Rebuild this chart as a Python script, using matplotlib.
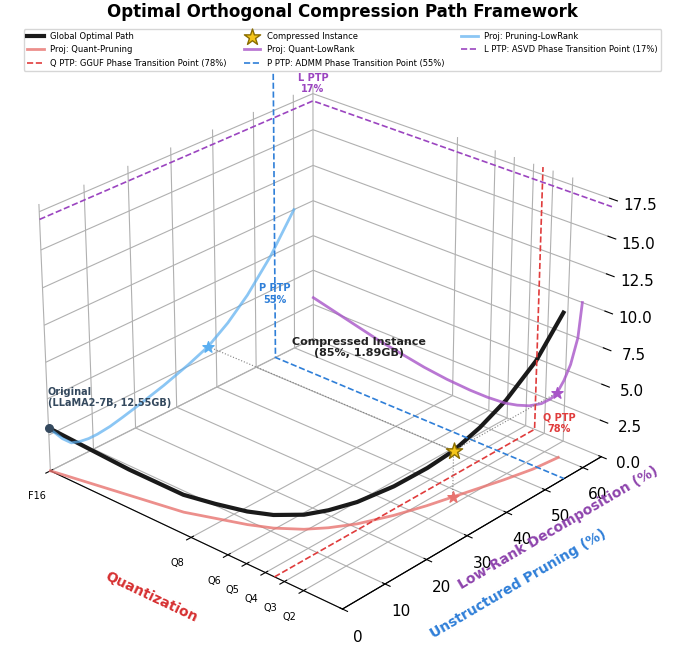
import matplotlib.pyplot as plt
import numpy as np

# quantization compression (%) for the tick formats
quant_ticks = [0, 50, 62.5, 68.75, 75, 81.25, 87.5]
quant_labels = ["F16", "Q8", "Q6", "Q5", "Q4", "Q3", "Q2"]

# global optimal path
path_x = [0, 8, 16, 24, 32, 40, 48, 56, 62, 68, 72, 76, 80, 83, 85, 87, 89, 91, 92]
path_y = [0, 1, 2, 3, 4, 5, 7, 9, 11, 14, 17, 21, 27, 33, 38, 43, 48, 54, 60]
path_z = [3.0, 2.6, 2.2, 1.8, 1.5, 1.2, 1.0, 0.9, 0.9, 1.0, 1.2, 1.5, 2.0, 2.6, 3.2, 4.2, 5.5, 7.5, 10.0]

inst = (85, 38, 3.2)
q_ptp, p_ptp, l_ptp = 78, 55, 17

xmax, ymax, zmin, zmax = 100, 65, 0, 18

fig = plt.figure(figsize=(6.85, 6.51), dpi=100)
ax = fig.add_subplot(111, projection="3d")
ax.view_init(elev=27, azim=-48)
ax.set_xlim(0, xmax)
ax.set_ylim(0, ymax)
ax.set_zlim(zmin, zmax)

px, py, pz = np.array(path_x), np.array(path_y), np.array(path_z)
ax.plot(px, py, pz, color="#1a1a1a", lw=3, label="Global Optimal Path")
ax.plot(px, py, np.full_like(pz, zmin), color="#e8736f", lw=2, alpha=0.8, label="Proj: Quant-Pruning")
ax.plot(px, np.full_like(py, ymax), pz, color="#a855c8", lw=2, alpha=0.8, label="Proj: Quant-LowRank")
ax.plot(np.zeros_like(px), py, pz, color="#5aaef0", lw=2, alpha=0.7, label="Proj: Pruning-LowRank")

# phase transition lines
ax.plot([q_ptp, q_ptp, q_ptp], [0, ymax, ymax], [zmin, zmin, zmax], "--", color="#e03c3c", lw=1.2,
        label="Q PTP: GGUF Phase Transition Point (78%)")
ax.plot([0, 0, xmax], [p_ptp, p_ptp, p_ptp], [zmax + 2, zmin, zmin], "--", color="#2f7fd8", lw=1.2,
        label="P PTP: ADMM Phase Transition Point (55%)")
ax.plot([0, 0, xmax], [0, ymax, ymax], [l_ptp, l_ptp, l_ptp], "--", color="#9b45c0", lw=1.2,
        label="L PTP: ASVD Phase Transition Point (17%)")

ax.scatter(*inst, marker="*", s=150, color="#f5c518", edgecolor="#8a6d00", depthshade=False,
           label="Compressed Instance", zorder=10)
ax.scatter(inst[0], inst[1], zmin, marker="*", s=70, color="#e8736f", depthshade=False)
ax.scatter(inst[0], ymax, inst[2], marker="*", s=70, color="#a855c8", depthshade=False)
ax.scatter(0, inst[1], inst[2], marker="*", s=70, color="#5aaef0", depthshade=False)
for p in [(inst[0], inst[1], zmin), (inst[0], ymax, inst[2]), (0, inst[1], inst[2])]:
    ax.plot([inst[0], p[0]], [inst[1], p[1]], [inst[2], p[2]], ":", color="gray", lw=0.8)

ax.scatter(0, 0, path_z[0], s=30, color="#34495e", depthshade=False)
ax.text(0, 0, path_z[0] + 1.5, "Original\n(LLaMA2-7B, 12.55GB)", fontsize=7, weight="bold", color="#34495e")
ax.text(inst[0] - 25, inst[1] - 5, inst[2] + 5, "Compressed Instance\n(85%, 1.89GB)", fontsize=8,
        weight="bold", color="#222222", ha="center")
ax.text(0, p_ptp, 4, "P PTP\n55%", fontsize=7, weight="bold", color="#2f7fd8", ha="center")
ax.text(0, ymax, l_ptp + 0.6, "L PTP\n17%", fontsize=7, weight="bold", color="#9b45c0", ha="center")
ax.text(q_ptp + 8, ymax, 0.5, "Q PTP\n78%", fontsize=7, weight="bold", color="#e03c3c", ha="center")

ax.set_xticks(quant_ticks)
ax.set_xticklabels(quant_labels, fontsize=7)
ax.set_yticks([0, 10, 20, 30, 40, 50, 60])
ax.set_zticks(np.arange(0, 17.6, 2.5))
ax.tick_params(axis="y", labelsize=11)
ax.tick_params(axis="z", labelsize=11)
ax.zaxis._axinfo["juggled"] = (0, 1, 2)
ax.set_xlabel("Quantization", color="#d63031", weight="bold", labelpad=12)
ax.set_ylabel("Unstructured Pruning (%)", color="#2f7fd8", weight="bold", labelpad=10)
ax.set_zlabel("Low-Rank Decomposition (%)", color="#8e44ad", weight="bold", labelpad=12)
for a in (ax.xaxis, ax.yaxis, ax.zaxis):
    a.set_pane_color((1, 1, 1, 0))

fig.suptitle("Optimal Orthogonal Compression Path Framework", fontsize=12, weight="bold", y=0.995)
handles, labels = ax.get_legend_handles_labels()
order = [0, 1, 4, 7, 2, 5, 3, 6]
fig.legend([handles[i] for i in order], [labels[i] for i in order], loc="upper center", ncol=3,
           fontsize=6, bbox_to_anchor=(0.5, 0.962), frameon=True)
plt.subplots_adjust(left=0.0, right=0.93, bottom=0.0, top=0.95)
plt.savefig("out.png", dpi=100)
